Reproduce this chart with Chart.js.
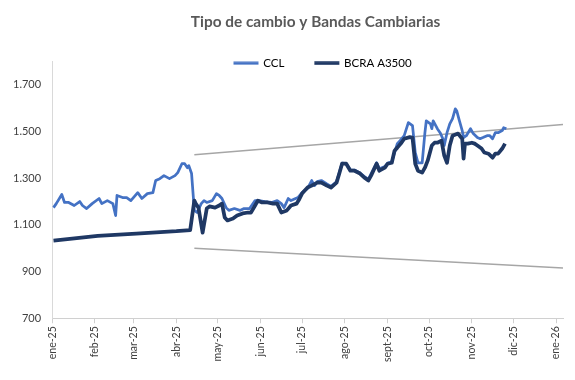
<!DOCTYPE html>
<html>
<head>
<meta charset="utf-8">
<script src="https://cdn.jsdelivr.net/npm/chart.js@4.4.1/dist/chart.umd.min.js"></script>
<style>
  html, body { margin: 0; padding: 0; background: #fff; }
</style>
</head>
<body>
<canvas id="chart" width="575" height="380"></canvas>
<script>
// Tipo de cambio CCL vs A3500 y bandas cambiarias, 2025

const cclDates = [
  '2025-01-02', '2025-01-04', '2025-01-08', '2025-01-10', '2025-01-13', '2025-01-17', '2025-01-21', '2025-01-23',
  '2025-01-26', '2025-01-30', '2025-02-04', '2025-02-06', '2025-02-10', '2025-02-14', '2025-02-16', '2025-02-17',
  '2025-02-21', '2025-02-24', '2025-02-27', '2025-03-04', '2025-03-07', '2025-03-11', '2025-03-15', '2025-03-17',
  '2025-03-20', '2025-03-23', '2025-03-27', '2025-03-31', '2025-04-02', '2025-04-05', '2025-04-07', '2025-04-09',
  '2025-04-10', '2025-04-12', '2025-04-14', '2025-04-16', '2025-04-19', '2025-04-21', '2025-04-23', '2025-04-27',
  '2025-04-30', '2025-05-02', '2025-05-04', '2025-05-07', '2025-05-09', '2025-05-13', '2025-05-17', '2025-05-20',
  '2025-05-24', '2025-05-28', '2025-05-31', '2025-06-04', '2025-06-09', '2025-06-13', '2025-06-16', '2025-06-18',
  '2025-06-21', '2025-06-23', '2025-06-28', '2025-07-01', '2025-07-05', '2025-07-08', '2025-07-10', '2025-07-12',
  '2025-07-15', '2025-07-19', '2025-07-22', '2025-07-26', '2025-07-28', '2025-07-30', '2025-08-02', '2025-08-05',
  '2025-08-08', '2025-08-12', '2025-08-15', '2025-08-18', '2025-08-20', '2025-08-24', '2025-08-26', '2025-08-30',
  '2025-09-01', '2025-09-04', '2025-09-08', '2025-09-10', '2025-09-13', '2025-09-16', '2025-09-19', '2025-09-21',
  '2025-09-23', '2025-09-26', '2025-09-28', '2025-09-29', '2025-10-02', '2025-10-03', '2025-10-04', '2025-10-07',
  '2025-10-09', '2025-10-11', '2025-10-12', '2025-10-14', '2025-10-16', '2025-10-18', '2025-10-20', '2025-10-21',
  '2025-10-23', '2025-10-25', '2025-10-26', '2025-10-28', '2025-10-31', '2025-11-02', '2025-11-05', '2025-11-07',
  '2025-11-09', '2025-11-12', '2025-11-14', '2025-11-16', '2025-11-18', '2025-11-20', '2025-11-23', '2025-11-24',
  '2025-11-26'
];
const cclValues = [
  1174, 1191, 1230, 1196, 1196, 1183, 1200, 1183,
  1170, 1191, 1213, 1191, 1204, 1191, 1140, 1226,
  1217, 1217, 1204, 1238, 1213, 1234, 1238, 1290,
  1298, 1311, 1298, 1311, 1324, 1362, 1362, 1345,
  1354, 1320, 1162, 1153, 1191, 1204, 1196, 1204,
  1234, 1226, 1213, 1174, 1162, 1170, 1162, 1170,
  1170, 1204, 1204, 1200, 1196, 1204, 1191, 1174,
  1213, 1204, 1217, 1238, 1256, 1290, 1268, 1285,
  1290, 1275, 1265, 1285, 1325, 1365, 1362, 1335,
  1335, 1322, 1308, 1295, 1318, 1366, 1340, 1350,
  1365, 1370, 1448, 1461, 1482, 1538, 1525, 1410,
  1366, 1366, 1495, 1546, 1533, 1512, 1546, 1512,
  1495, 1469, 1440, 1495, 1533, 1555, 1597, 1589,
  1546, 1504, 1474, 1482, 1512, 1491, 1474, 1469,
  1474, 1482, 1482, 1469, 1495, 1495, 1504, 1516,
  1512
];

const a3500Dates = [
  '2025-01-02', '2025-02-03', '2025-03-03', '2025-04-01', '2025-04-11', '2025-04-14', '2025-04-15', '2025-04-17',
  '2025-04-20', '2025-04-23', '2025-04-25', '2025-04-29', '2025-05-02', '2025-05-04', '2025-05-06', '2025-05-08',
  '2025-05-12', '2025-05-15', '2025-05-19', '2025-05-23', '2025-05-25', '2025-05-28', '2025-05-30', '2025-06-02',
  '2025-06-06', '2025-06-10', '2025-06-13', '2025-06-16', '2025-06-20', '2025-06-23', '2025-06-27', '2025-06-29',
  '2025-07-01', '2025-07-05', '2025-07-08', '2025-07-12', '2025-07-15', '2025-07-19', '2025-07-22', '2025-07-26',
  '2025-07-28', '2025-07-30', '2025-08-02', '2025-08-05', '2025-08-08', '2025-08-12', '2025-08-15', '2025-08-18',
  '2025-08-20', '2025-08-24', '2025-08-26', '2025-08-30', '2025-09-01', '2025-09-04', '2025-09-06', '2025-09-08',
  '2025-09-11', '2025-09-13', '2025-09-17', '2025-09-19', '2025-09-21', '2025-09-23', '2025-09-26', '2025-09-28',
  '2025-09-30', '2025-10-03', '2025-10-05', '2025-10-07', '2025-10-10', '2025-10-12', '2025-10-14', '2025-10-16',
  '2025-10-18', '2025-10-22', '2025-10-25', '2025-10-26', '2025-10-27', '2025-10-29', '2025-11-01', '2025-11-03',
  '2025-11-05', '2025-11-08', '2025-11-10', '2025-11-13', '2025-11-16', '2025-11-18', '2025-11-20', '2025-11-23',
  '2025-11-25'
];
const a3500Values = [
  1033, 1053, 1063, 1073, 1078, 1204, 1191, 1174,
  1067, 1170, 1179, 1174, 1183, 1191, 1132, 1119,
  1127, 1140, 1149, 1153, 1153, 1183, 1204, 1196,
  1196, 1191, 1191, 1153, 1162, 1183, 1191, 1210,
  1234, 1260, 1268, 1281, 1281, 1268, 1260, 1281,
  1320, 1362, 1362, 1332, 1332, 1320, 1303, 1290,
  1311, 1362, 1332, 1345, 1362, 1366, 1418, 1431,
  1452, 1469, 1476, 1474, 1362, 1332, 1324, 1345,
  1375, 1440, 1452, 1452, 1461, 1397, 1366, 1440,
  1482, 1491, 1469, 1384, 1448, 1448, 1452, 1448,
  1440, 1427, 1410, 1405, 1388, 1405, 1405, 1427,
  1448
];

const bandDates = ['2025-04-14', '2026-01-06'];
const bandUpper = [1400, 1530];
const bandLower = [1000, 915];

const monthStarts = [
  '2025-01-01', '2025-02-01', '2025-03-01', '2025-04-01', '2025-05-01', '2025-06-01', '2025-07-01',
  '2025-08-01', '2025-09-01', '2025-10-01', '2025-11-01', '2025-12-01', '2026-01-01'
];
const monthLabels = [
  'ene-25', 'feb-25', 'mar-25', 'abr-25', 'may-25', 'jun-25', 'jul-25',
  'ago-25', 'sept-25', 'oct-25', 'nov-25', 'dic-25', 'ene-26'
];
const yTicks = [700, 900, 1100, 1300, 1500, 1700];

const FONT = 'Lato, "Open Sans", sans-serif';

// days since 1 Jan 2025
function dayOf(iso) {
  const [y, m, d] = iso.split('-').map(Number);
  return (Date.UTC(y, m - 1, d) - Date.UTC(2025, 0, 1)) / 86400000;
}

function toPoints(dates, values) {
  return dates.map((d, i) => ({ x: dayOf(d), y: values[i] }));
}

function fmt(v) {
  return String(v).replace(/\B(?=(\d{3})+(?!\d))/g, '.');
}

// short line sample for the legend, with blank room on the left as item gap
function legendLine(color, h) {
  const c = document.createElement('canvas');
  c.width = 62;
  c.height = 4;
  const g = c.getContext('2d');
  g.fillStyle = color;
  g.fillRect(34, (4 - h) / 2, 25, h);
  return c;
}

// legend reserves only a sliver above the plot (like Excel, it sits over the
// top of the axis); open its clip box again and nudge the title right a bit
const headerTweak = {
  id: 'headerTweak',
  afterLayout(chart) {
    const lg = chart.legend;
    lg.bottom = lg.top + 20;
    lg.height = 20;
    const tb = chart.titleBlock;
    tb.left += 8;
    tb.right += 8;
  },
};

const series = [
  { label: 'BCRA A3500', dates: a3500Dates, values: a3500Values, color: '#1F3864', width: 3.75 },
  { label: 'CCL', dates: cclDates, values: cclValues, color: '#4472C4', width: 2.75 },
];

const datasets = series.map(s => ({
  label: s.label,
  data: toPoints(s.dates, s.values),
  borderColor: s.color,
  borderWidth: s.width,
  pointRadius: 0,
  tension: 0,
  borderJoinStyle: 'round',
}));

[bandUpper, bandLower].forEach((vals, i) => {
  datasets.push({
    label: i === 0 ? 'Banda superior' : 'Banda inferior',
    data: toPoints(bandDates, vals),
    borderColor: '#A6A6A6',
    borderWidth: 1.5,
    pointRadius: 0,
    tension: 0,
  });
});

new Chart(document.getElementById('chart').getContext('2d'), {
  type: 'line',
  data: { datasets },
  plugins: [headerTweak],
  options: {
    responsive: false,
    animation: false,
    layout: { padding: { left: 2, right: 12, top: 0, bottom: 15 } },
    plugins: {
      tooltip: { enabled: false },
      title: {
        display: true,
        text: 'Tipo de cambio y Bandas Cambiarias',
        color: '#595959',
        font: { family: FONT, size: 15.4, weight: 'bold' },
        padding: { top: 13, bottom: 26 },
        fullSize: false,
      },
      legend: {
        position: 'top',
        align: 'center',
        fullSize: false,
        maxHeight: 4,
        labels: {
          usePointStyle: true,
          pointStyleWidth: 54,
          padding: 0,
          color: '#595959',
          font: { family: FONT, size: 11.5 },
          generateLabels: () => [1, 0].map(i => ({
            text: series[i].label,
            pointStyle: legendLine(series[i].color, i === 0 ? 3.5 : 3),
            fillStyle: series[i].color,
            strokeStyle: series[i].color,
            lineWidth: 0,
            hidden: false,
            datasetIndex: i,
          })),
        },
      },
    },
    scales: {
      x: {
        type: 'linear',
        min: 0,
        max: 370,
        afterBuildTicks: axis => { axis.ticks = monthStarts.map(d => ({ value: dayOf(d) })); },
        ticks: {
          autoSkip: false,
          minRotation: 90,
          maxRotation: 90,
          padding: 3,
          color: '#404040',
          font: { family: FONT, size: 10.5 },
          callback: (v, i) => monthLabels[i],
        },
        grid: { display: true, drawOnChartArea: false, drawTicks: true, tickLength: 5, color: '#d0d0d0' },
        border: { color: '#d0d0d0' },
      },
      y: {
        min: 700,
        max: 1800,
        afterBuildTicks: axis => { axis.ticks = yTicks.map(v => ({ value: v })); },
        ticks: {
          padding: 11,
          color: '#404040',
          font: { family: FONT, size: 11 },
          callback: v => fmt(v),
        },
        grid: { display: false, drawTicks: false },
        border: { color: '#d9d9d9' },
      },
    },
  },
});
</script>
</body>
</html>
